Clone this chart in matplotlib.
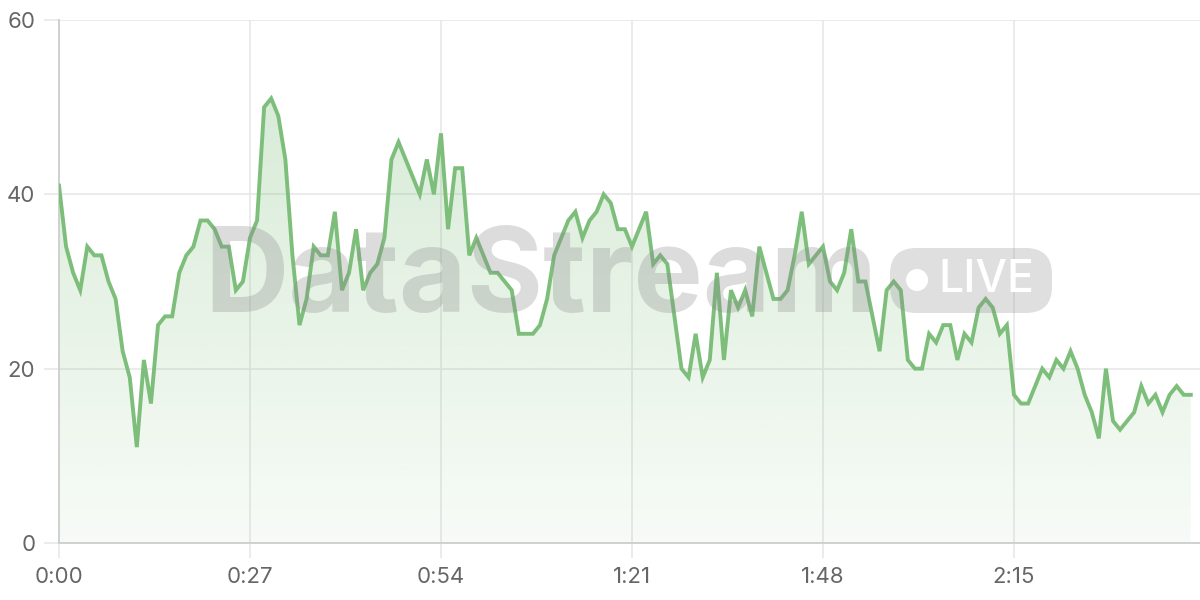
import matplotlib
matplotlib.use("Agg")
import matplotlib.pyplot as plt
import numpy as np
from matplotlib.patches import FancyBboxPatch, Ellipse

# one sample per second, 0..160 s
valores = [
    41, 34, 31, 29, 34, 33, 33, 30, 28, 22,
    19, 11, 21, 16, 25, 26, 26, 31, 33, 34,
    37, 37, 36, 34, 34, 29, 30, 35, 37, 50,
    51, 49, 44, 33, 25, 28, 34, 33, 33, 38,
    29, 31, 36, 29, 31, 32, 35, 44, 46, 44,
    42, 40, 44, 40, 47, 36, 43, 43, 33, 35,
    33, 31, 31, 30, 29, 24, 24, 24, 25, 28,
    33, 35, 37, 38, 35, 37, 38, 40, 39, 36,
    36, 34, 36, 38, 32, 33, 32, 26, 20, 19,
    24, 19, 21, 31, 21, 29, 27, 29, 26, 34,
    31, 28, 28, 29, 33, 38, 32, 33, 34, 30,
    29, 31, 36, 30, 30, 26, 22, 29, 30, 29,
    21, 20, 20, 24, 23, 25, 25, 21, 24, 23,
    27, 28, 27, 24, 25, 17, 16, 16, 18, 20,
    19, 21, 20, 22, 20, 17, 15, 12, 20, 14,
    13, 14, 15, 18, 16, 17, 15, 17, 18, 17,
    17,
]
tempo = np.arange(len(valores))
ticks_x = [0, 27, 54, 81, 108, 135]
rotulos_x = ["0:00", "0:27", "0:54", "1:21", "1:48", "2:15"]
ticks_y = [0, 20, 40, 60]

COR_LINHA = "#7dbe7b"
COR_GRADE = "#e8e8e8"
COR_TEXTO = "#666666"

plt.rcParams["font.family"] = ["Inter", "DejaVu Sans"]

fig = plt.figure(figsize=(12, 6), dpi=100)
ax = fig.add_axes([59 / 1200, 57 / 600, 1141 / 1200, 523 / 600])

ax.set_xlim(0, 161.3)
ax.set_ylim(0, 60)

# gradiente da area preenchida
area = ax.fill_between(tempo, valores, 0, color="none", lw=0)
grad = np.linspace(0.06, 0.34, 256).reshape(-1, 1)
cores = np.zeros((256, 1, 4))
cores[..., 0] = 0x7d / 255
cores[..., 1] = 0xbe / 255
cores[..., 2] = 0x7b / 255
cores[..., 3] = grad
img = ax.imshow(cores, origin="lower", aspect="auto",
                extent=[0, tempo[-1], 0, 60], zorder=1)
img.set_clip_path(area.get_paths()[0], transform=ax.transData)

ax.plot(tempo, valores, color=COR_LINHA, lw=2.8, zorder=4,
        solid_joinstyle="miter")

ax.set_xticks(ticks_x)
ax.set_xticklabels(rotulos_x)
ax.set_yticks(ticks_y)
ax.grid(True, color=COR_GRADE, lw=1.2, zorder=0)
ax.set_axisbelow(True)
ax.tick_params(axis="both", colors=COR_GRADE, length=11, width=1.2,
               labelcolor=COR_TEXTO, labelsize=16)
ax.tick_params(axis="x", pad=6)
ax.tick_params(axis="y", pad=6)
for lado in ["top", "right"]:
    ax.spines[lado].set_visible(False)
for lado in ["left", "bottom"]:
    ax.spines[lado].set_color("#d0d0d0")
    ax.spines[lado].set_linewidth(1.4)

# marca d'agua
fig.text(541 / 1200, 1 - 312 / 600, "DataStream", ha="center",
         va="baseline", fontsize=84, fontweight="bold",
         color=(0.55, 0.55, 0.55, 0.30), zorder=3)
pilula = FancyBboxPatch((890 / 1200, 1 - 313 / 600), 162 / 1200, 65 / 600,
                        boxstyle="round,pad=0,rounding_size=0.022",
                        transform=fig.transFigure, mutation_aspect=2,
                        facecolor=(0.55, 0.55, 0.55, 0.28), lw=0, zorder=3)
fig.patches.append(pilula)
fig.patches.append(Ellipse((917 / 1200, 1 - 280 / 600), 22 / 1200, 22 / 600,
                           transform=fig.transFigure, facecolor="white",
                           lw=0, zorder=3.5))
fig.text(986 / 1200, 1 - 280 / 600, "LIVE", ha="center", va="center",
         fontsize=32, fontweight="medium", color="white", zorder=3.5)

fig.savefig("out.png", dpi=100)
